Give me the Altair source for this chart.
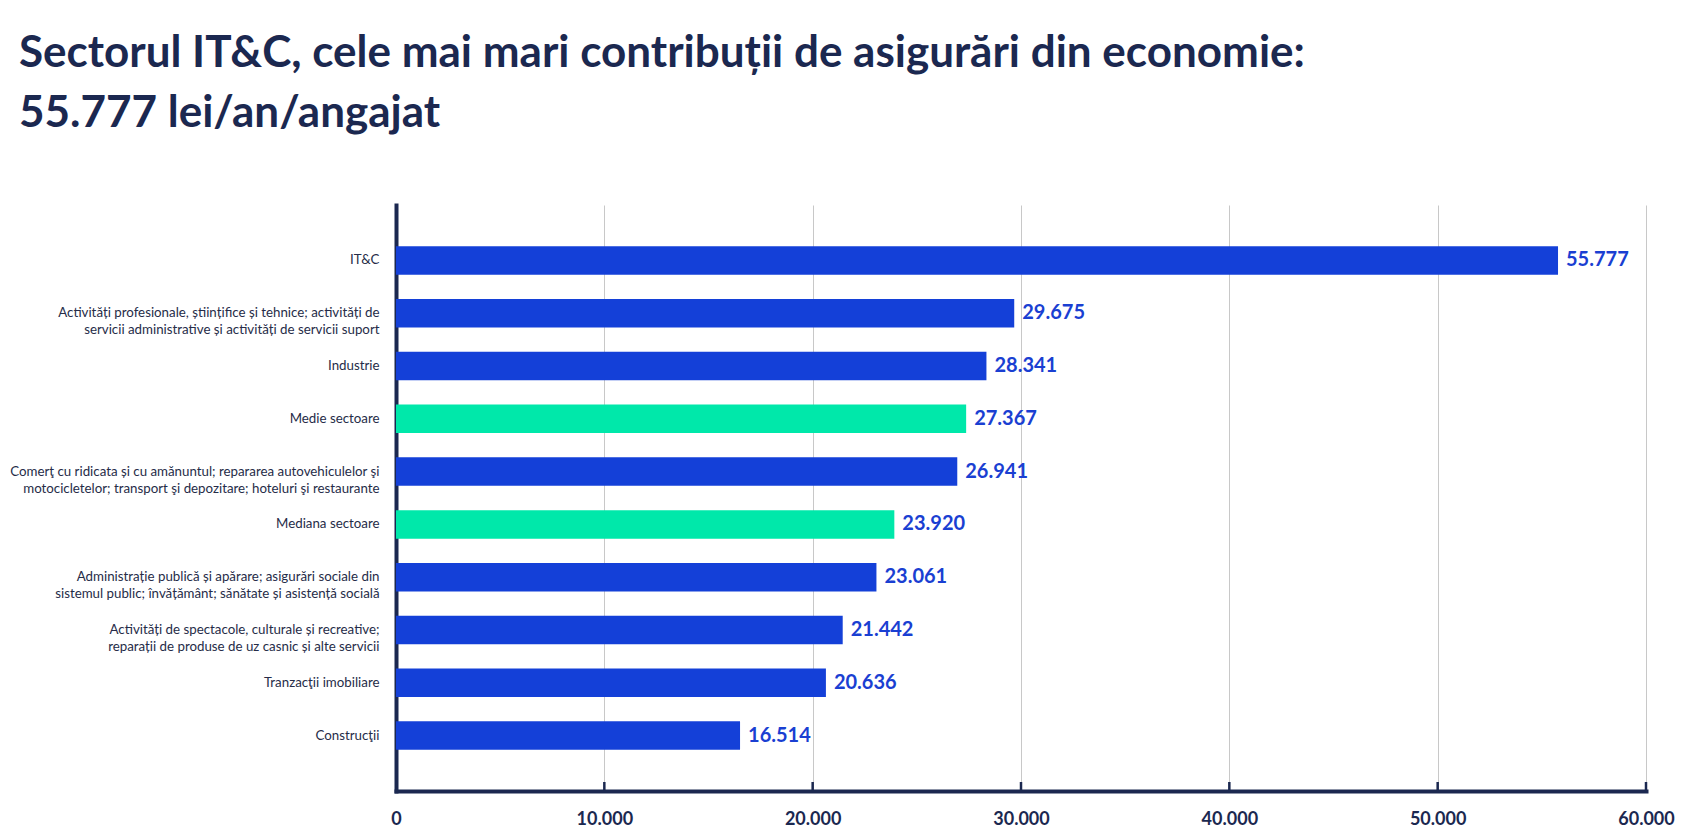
import altair as alt
import pandas as pd

TITLE_LINES = [
    "Sectorul IT&C, cele mai mari contribuții de asigurări din economie:",
    "55.777 lei/an/angajat",
]
CATEGORIES = [
    "IT&C",
    "Activități profesionale, științifice și tehnice; activități de\nservicii administrative și activități de servicii suport",
    "Industrie",
    "Medie sectoare",
    "Comerţ cu ridicata și cu amănuntul; repararea autovehiculelor şi\nmotocicletelor; transport şi depozitare; hoteluri şi restaurante",
    "Mediana sectoare",
    "Administrație publică și apărare; asigurări sociale din\nsistemul public; învățământ; sănătate și asistență socială",
    "Activități de spectacole, culturale și recreative;\nreparații de produse de uz casnic și alte servicii",
    "Tranzacţii imobiliare",
    "Construcţii",
]
VALUES = [55777, 29675, 28341, 27367, 26941, 23920, 23061, 21442, 20636, 16514]
KINDS = ["sector", "sector", "sector", "medie", "sector", "medie",
         "sector", "sector", "sector", "sector"]
X_TICKS = [0, 10000, 20000, 30000, 40000, 50000, 60000]

NAVY = "#1b2850"
BLUE = "#1440d8"
GREEN = "#00e8aa"
W, H = 1250, 586

df = pd.DataFrame({"sector": CATEGORIES, "value": VALUES, "kind": KINDS})
ticks_df = pd.DataFrame({"value": X_TICKS[1:]})

fmt = "replace(format(datum.value, ','), ',', '.')"

y_enc = alt.Y(
    "sector:N", sort=CATEGORIES,
    scale=alt.Scale(paddingInner=0.46, paddingOuter=0.78),
    axis=alt.Axis(
        title=None, labelExpr="split(datum.label, '\\n')",
        labelFont="Lato", labelFontSize=13.3, labelColor="#262c48",
        labelLineHeight=17, labelPadding=17, ticks=False, labelLimit=420,
        domainColor=NAVY, domainWidth=4, domainCap="square",
    ),
)
x_scale = alt.Scale(domain=[0, 60000], nice=False, zero=True)
x_axis = alt.Axis(
    title=None, values=X_TICKS, labelExpr=fmt, labelFlush=False,
    labelFont="Lato", labelFontWeight="bold", labelFontSize=18,
    labelColor=NAVY, labelPadding=19, ticks=False,
    domainColor=NAVY, domainWidth=4, domainCap="square",
    grid=True, gridColor="#c8c8c8", gridWidth=1,
)
x_enc = alt.X("value:Q", scale=x_scale, axis=x_axis)

base = alt.Chart(df).encode(y=y_enc, x=x_enc)

bars = base.mark_bar().encode(
    color=alt.Color("kind:N", scale=alt.Scale(domain=["sector", "medie"], range=[BLUE, GREEN]), legend=None)
)
labels = base.mark_text(
    align="left", baseline="middle", dx=8, font="Lato", fontWeight="bold",
    fontSize=20, color="#1a3fd2",
).transform_calculate(lbl=fmt).encode(text="lbl:N")

tick_marks = alt.Chart(ticks_df).mark_rule(color=NAVY, strokeWidth=2.5).encode(
    x=alt.X("value:Q", scale=x_scale, axis=x_axis),
    y=alt.value(H - 9),
    y2=alt.value(H),
)

chart = alt.layer(bars, labels, tick_marks).properties(
    width=W, height=H,
    background="white",
    autosize=alt.AutoSizeParams(type="none"),
    padding={"left": 388, "top": 197, "right": 40, "bottom": 40},
    title=alt.TitleParams(
        text=TITLE_LINES, anchor="start", frame="group", dx=-377, offset=69,
        font="Lato", fontSize=44, fontWeight="bold", color=NAVY, lineHeight=60,
    ),
).configure_view(stroke=None)

chart.save("out.html", embed_options={"renderer": "svg", "actions": False})
